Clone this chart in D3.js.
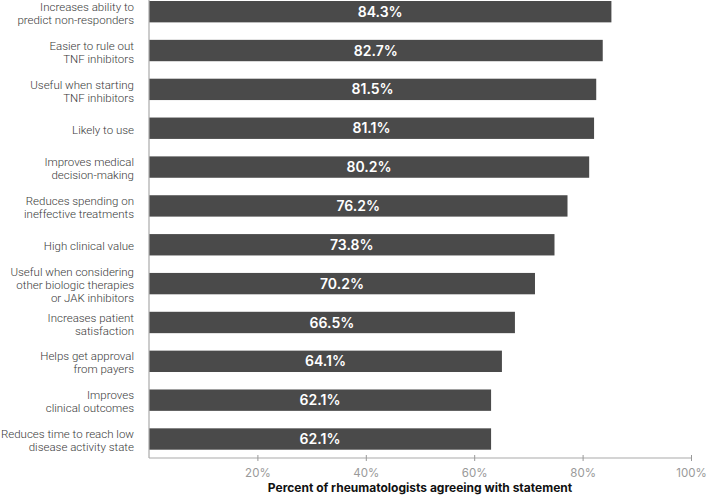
<!DOCTYPE html>
<html>
<head>
<meta charset="utf-8">
<script src="https://cdn.jsdelivr.net/npm/d3@7"></script>
<style>
  html, body { margin: 0; padding: 0; background: #fff; }
  svg { display: block; }
</style>
</head>
<body>
<svg id="chart" width="708" height="496"></svg>
<script>
const categories = [
  ["Increases ability to", "predict non-responders"],
  ["Easier to rule out", "TNF inhibitors"],
  ["Useful when starting", "TNF inhibitors"],
  ["Likely to use"],
  ["Improves medical", "decision-making"],
  ["Reduces spending on", "ineffective treatments"],
  ["High clinical value"],
  ["Useful when considering", "other biologic therapies", "or JAK inhibitors"],
  ["Increases patient", "satisfaction"],
  ["Helps get approval", "from payers"],
  ["Improves", "clinical outcomes"],
  ["Reduces time to reach low", "disease activity state"]
];
const values = [84.3, 82.7, 81.5, 81.1, 80.2, 76.2, 73.8, 70.2, 66.5, 64.1, 62.1, 62.1];
const tickValues = [20, 40, 60, 80, 100];
const xTitle = "Percent of rheumatologists agreeing with statement";

const svg = d3.select("#chart");
const font = "Roboto, 'Noto Sans', sans-serif";

const x = d3.scaleLinear().domain([0, 100]).range([149, 691]);
const y = d3.scaleBand().domain(d3.range(categories.length))
  .range([1, 449.7]).paddingInner(0.45).paddingOuter(0);

const axisY = 458;
const overhang = 5.5;

// bars
svg.append("g").selectAll("rect").data(values).join("rect")
  .attr("x", x(0))
  .attr("y", (d, i) => y(i))
  .attr("width", d => x(d) - x(0) + overhang)
  .attr("height", y.bandwidth())
  .attr("fill", "#4a4a4a");

// value labels
svg.append("g").selectAll("text").data(values).join("text")
  .attr("x", d => (x(0) + x(d) + overhang) / 2)
  .attr("y", (d, i) => y(i) + y.bandwidth() / 2)
  .attr("dy", "0.36em")
  .attr("text-anchor", "middle")
  .attr("fill", "#fff")
  .style("font-family", "Inter, Roboto, sans-serif")
  .style("font-size", "14px")
  .style("font-weight", 600)
  .text(d => d.toFixed(1) + "%");

// category labels
const lineH = 13;
const catG = svg.append("g");
categories.forEach((lines, i) => {
  const cy = y(i) + y.bandwidth() / 2 + 1.5;
  const t = catG.append("text")
    .attr("text-anchor", "end")
    .attr("fill", "#3a3a3a")
    .style("font-family", font)
    .style("font-size", "11.5px")
    .style("font-weight", 300);
  lines.forEach((ln, j) => {
    t.append("tspan")
      .attr("x", 134)
      .attr("y", cy + (j - (lines.length - 1) / 2) * lineH)
      .attr("dy", "0.36em")
      .text(ln);
  });
});
// fit labels into the left margin if needed
catG.selectAll("tspan").each(function () {
  const w = this.getComputedTextLength();
  if (w > 133) d3.select(this).attr("textLength", 133).attr("lengthAdjust", "spacingAndGlyphs");
});

// left axis line
svg.append("line")
  .attr("x1", x(0)).attr("x2", x(0))
  .attr("y1", 0).attr("y2", axisY)
  .attr("stroke", "#aaa").attr("stroke-width", 1.2);

// bottom axis
const xAxis = d3.axisBottom(x).tickValues(tickValues)
  .tickSize(3).tickPadding(8).tickFormat(d => d + "%");
const gx = svg.append("g").attr("transform", `translate(0,${axisY})`).call(xAxis);
gx.select(".domain").attr("d", `M${x(0)},0H${x(100)}`).attr("stroke", "#aaa").attr("stroke-width", 1.2);
gx.selectAll(".tick line").attr("y1", -3).attr("y2", 3).attr("stroke", "#999");
gx.selectAll(".tick text")
  .attr("fill", "#999")
  .style("font-family", "Inter, Roboto, sans-serif")
  .style("font-size", "11.5px");

// x title
svg.append("text")
  .attr("x", (x(0) + x(100)) / 2)
  .attr("y", 488)
  .attr("dy", "0.36em")
  .attr("text-anchor", "middle")
  .attr("fill", "#111")
  .style("font-family", "Inter, Roboto, sans-serif")
  .style("font-size", "12px")
  .style("font-weight", 700)
  .text(xTitle);
</script>
</body>
</html>
